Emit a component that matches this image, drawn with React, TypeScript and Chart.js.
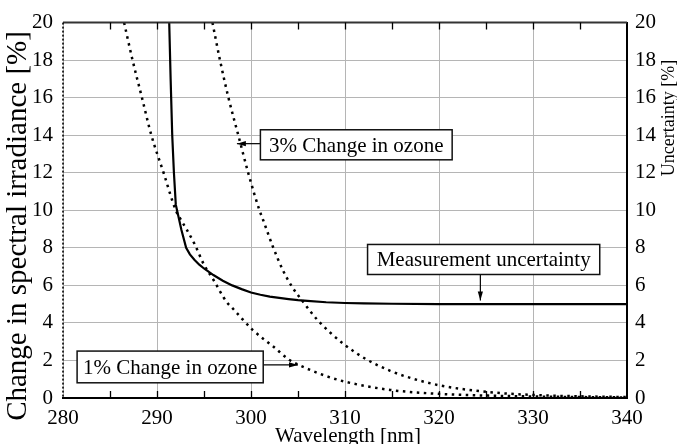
import React, { useEffect, useRef } from 'react';
import { Chart, registerables } from 'chart.js';

Chart.register(...registerables);

// ---- data ----
const xTickValues = [280, 290, 300, 310, 320, 330, 340];
const xMinorTicks = [285, 290, 295, 300, 305, 310, 315, 320, 325, 330, 335];
const yTickValues = [0, 2, 4, 6, 8, 10, 12, 14, 16, 18, 20];

const uncWl = [291.3, 291.45, 291.62, 291.8, 292.0, 292.6, 293.1, 293.5, 294.0, 294.5, 295.0, 296.0, 297.0, 298.0, 299.0, 300.0, 301.0, 302.0, 303.0, 304.0, 305.0, 306.0, 308.0, 310.0, 312.0, 315.0, 320.0, 330.0, 340.0];
const uncVal = [20, 17, 14, 12, 10.3, 8.95, 8.0, 7.65, 7.35, 7.1, 6.9, 6.55, 6.25, 6.0, 5.8, 5.62, 5.5, 5.4, 5.33, 5.27, 5.21, 5.17, 5.1, 5.06, 5.04, 5.02, 5.0, 5.0, 5.0];

const oz1Wl = [286.5, 287.4, 288.4, 289.4, 290.7, 292.0, 292.6, 293.2, 294.0, 295.0, 296.0, 297.4, 298.0, 300.2, 302.4, 304.1, 305.0, 307.7, 310.0, 314.8, 320.0, 325.0, 330.0, 335.0, 340.0];
const oz1Val = [20, 18, 16, 14, 12, 10.0, 9.45, 8.94, 8.2, 7.1, 6.3, 5.12, 4.8, 3.62, 2.73, 2.02, 1.78, 1.22, 0.87, 0.43, 0.22, 0.13, 0.08, 0.05, 0.03];

const oz3Wl = [295.9, 296.7, 297.6, 298.65, 299.7, 300.9, 301.3, 302.3, 303.4, 304.4, 305.5, 307.0, 308.5, 310.0, 312.3, 314.8, 316.5, 320.0, 325.0, 330.0, 335.0, 340.0];
const oz3Val = [20, 18, 16, 14, 12, 10, 9.47, 8.1, 6.8, 5.9, 5.15, 4.2, 3.45, 2.82, 2.05, 1.45, 1.14, 0.68, 0.33, 0.16, 0.09, 0.05];

const xTitle = 'Wavelength [nm]';
const yTitle = 'Change in spectral irradiance [%]';
const y2Title = 'Uncertainty [%]';

// annotation boxes (data coordinates)
type Note = { text: string; x0: number; x1: number; y0: number; y1: number; ax0: number; ay0: number; ax1: number; ay1: number };
const notes: Note[] = [
  { text: '1% Change in ozone', x0: 281.5, x1: 301.3, y0: 0.81, y1: 2.5, ax0: 301.3, ay0: 1.76, ax1: 305.0, ay1: 1.76 },
  { text: '3% Change in ozone', x0: 301.0, x1: 321.4, y0: 12.69, y1: 14.29, ax0: 301.0, ay0: 13.55, ax1: 298.5, ay1: 13.55 },
  { text: 'Measurement uncertainty', x0: 312.4, x1: 337.1, y0: 6.58, y1: 8.18, ax0: 324.4, ay0: 6.58, ax1: 324.4, ay1: 5.2 },
];

const FONT = '"Liberation Serif", "Times New Roman", serif';

const toPts = (xs: number[], ys: number[]) => xs.map((x, i) => ({ x, y: ys[i] }));

const overlay = {
  id: 'overlay',
  afterDatasetsDraw(chart: any) {
    const { ctx, chartArea: a, scales } = chart;
    const x = scales.x;
    const y = scales.y;
    ctx.save();
    // top border
    ctx.strokeStyle = '#333';
    ctx.lineWidth = 2;
    ctx.beginPath();
    ctx.moveTo(a.left, a.top);
    ctx.lineTo(a.right, a.top);
    ctx.stroke();
    // left border (dotted)
    ctx.strokeStyle = '#000';
    ctx.lineWidth = 1.6;
    ctx.setLineDash([2, 2]);
    ctx.beginPath();
    ctx.moveTo(a.left, a.top);
    ctx.lineTo(a.left, a.bottom);
    ctx.stroke();
    ctx.setLineDash([]);
    // minor ticks (inside, top & bottom)
    ctx.strokeStyle = '#000';
    ctx.lineWidth = 1.3;
    ctx.beginPath();
    for (const v of xMinorTicks) {
      const px = Math.round(x.getPixelForValue(v)) + 0.5;
      ctx.moveTo(px, a.top);
      ctx.lineTo(px, a.top + 7);
      ctx.moveTo(px, a.bottom);
      ctx.lineTo(px, a.bottom - 7);
    }
    ctx.stroke();

    // annotations
    for (const n of notes) {
      const l = x.getPixelForValue(n.x0);
      const r = x.getPixelForValue(n.x1);
      const t = y.getPixelForValue(n.y1);
      const b = y.getPixelForValue(n.y0);
      const sx = x.getPixelForValue(n.ax0);
      const sy = y.getPixelForValue(n.ay0);
      const ex = x.getPixelForValue(n.ax1);
      const ey = y.getPixelForValue(n.ay1);
      ctx.strokeStyle = '#000';
      ctx.fillStyle = '#000';
      ctx.lineWidth = 1.2;
      ctx.beginPath();
      ctx.moveTo(sx, sy);
      ctx.lineTo(ex, ey);
      ctx.stroke();
      const ang = Math.atan2(ey - sy, ex - sx);
      const hl = 9, hw = 2.6;
      ctx.beginPath();
      ctx.moveTo(ex, ey);
      ctx.lineTo(ex - hl * Math.cos(ang) + hw * Math.sin(ang), ey - hl * Math.sin(ang) - hw * Math.cos(ang));
      ctx.lineTo(ex - hl * Math.cos(ang) - hw * Math.sin(ang), ey - hl * Math.sin(ang) + hw * Math.cos(ang));
      ctx.closePath();
      ctx.fill();
      ctx.fillStyle = '#fff';
      ctx.fillRect(l, t, r - l, b - t);
      ctx.strokeStyle = '#111';
      ctx.lineWidth = 1.5;
      ctx.strokeRect(l, t, r - l, b - t);
      ctx.fillStyle = '#000';
      ctx.font = `21px ${FONT}`;
      ctx.textAlign = 'center';
      ctx.textBaseline = 'alphabetic';
      ctx.fillText(n.text, (l + r) / 2, (t + b) / 2 + 7);
    }
    ctx.restore();
  },
  afterDraw(chart: any) {
    const { ctx } = chart;
    ctx.save();
    ctx.fillStyle = '#000';
    ctx.textAlign = 'center';
    ctx.textBaseline = 'alphabetic';
    ctx.font = `21px ${FONT}`;
    ctx.fillText(xTitle, 348, 442);
    ctx.save();
    ctx.translate(26, 226);
    ctx.rotate(-Math.PI / 2);
    ctx.font = `29px ${FONT}`;
    ctx.fillText(yTitle, 0, 0);
    ctx.restore();
    ctx.save();
    ctx.translate(674, 118);
    ctx.rotate(-Math.PI / 2);
    ctx.font = `18px ${FONT}`;
    ctx.fillText(y2Title, 0, 0);
    ctx.restore();
    ctx.restore();
  },
};

export default function App() {
  const ref = useRef<HTMLCanvasElement | null>(null);
  useEffect(() => {
    if (!ref.current) return;
    const tickFont = { family: FONT, size: 21 };
    const dotted = {
      borderColor: '#000',
      borderWidth: 2.5,
      borderDash: [2.5, 4.5],
      borderCapStyle: 'butt',
      pointRadius: 0,
      cubicInterpolationMode: 'monotone',
      fill: false,
    };
    const chart = new Chart(ref.current, {
      type: 'line',
      data: {
        datasets: [
          {
            label: 'Measurement uncertainty',
            data: toPts(uncWl, uncVal),
            borderColor: '#000',
            borderWidth: 2.2,
            pointRadius: 0,
            tension: 0,
            fill: false,
          },
          { label: '1% Change in ozone', data: toPts(oz1Wl, oz1Val), ...dotted },
          { label: '3% Change in ozone', data: toPts(oz3Wl, oz3Val), ...dotted },
        ],
      },
      options: {
        animation: false,
        responsive: false,
        layout: { padding: { top: 22, left: 0, right: 0, bottom: 0 } },
        plugins: { legend: { display: false }, tooltip: { enabled: false } },
        scales: {
          x: {
            type: 'linear',
            min: 280,
            max: 340,
            afterBuildTicks: (s: any) => { s.ticks = xTickValues.map((v) => ({ value: v })); },
            afterFit: (s: any) => { s.height = 46; },
            ticks: { font: tickFont, color: '#000', padding: 8, maxRotation: 0, autoSkip: false },
            grid: { color: '#b5b5b5', lineWidth: 1, drawTicks: false },
            border: { display: true, color: '#000', width: 2 },
          },
          y: {
            type: 'linear',
            position: 'left',
            min: 0,
            max: 20,
            afterBuildTicks: (s: any) => { s.ticks = yTickValues.map((v) => ({ value: v })); },
            afterFit: (s: any) => { s.width = 63; },
            ticks: { font: tickFont, color: '#000', padding: 10 },
            grid: { color: '#b5b5b5', lineWidth: 1, drawTicks: false },
            border: { display: false },
          },
          y2: {
            type: 'linear',
            position: 'right',
            min: 0,
            max: 20,
            afterBuildTicks: (s: any) => { s.ticks = yTickValues.map((v) => ({ value: v })); },
            afterFit: (s: any) => { s.width = 50; },
            ticks: { font: tickFont, color: '#000', padding: 8 },
            grid: { display: false, drawTicks: false },
            border: { display: true, color: '#000', width: 2 },
          },
        },
      },
      plugins: [overlay],
    } as any);
    return () => chart.destroy();
  }, []);
  return (
    <div style={{ position: 'absolute', left: 0, top: 0, width: 677, height: 444, background: '#fff' }}>
      <canvas ref={ref} width={677} height={444} style={{ display: 'block', width: 677, height: 444 }} />
    </div>
  );
}
